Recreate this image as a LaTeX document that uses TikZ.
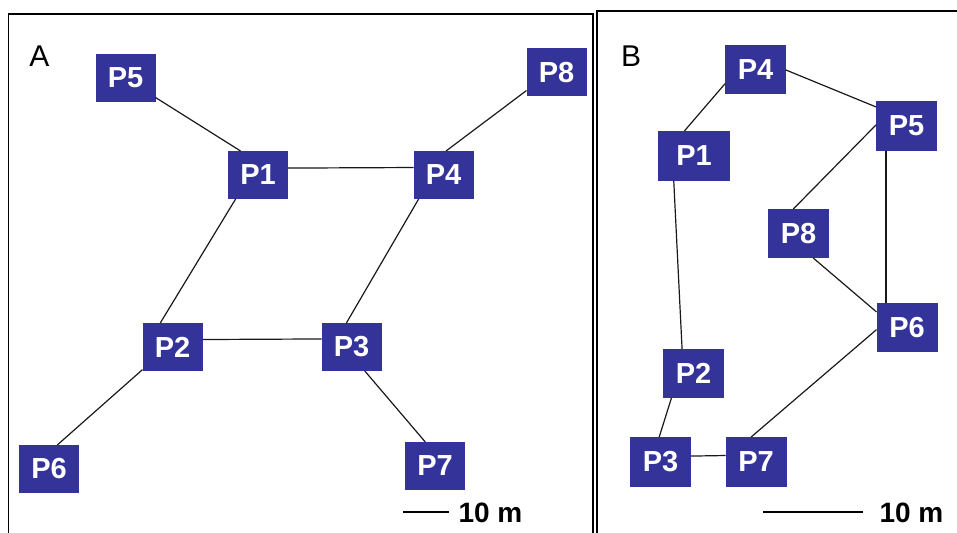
\documentclass[tikz,border=0pt]{standalone}
\usepackage{fontspec}
\setmainfont{Liberation Sans}
\definecolor{boxblue}{RGB}{51,51,153}
\begin{document}
\begin{tikzpicture}[x=1pt,y=-1pt,
 pbox/.style={fill=boxblue, text=white, font=\fontsize{29}{31}\selectfont\bfseries, minimum width=60pt, minimum height=48pt, inner sep=0pt, outer sep=0pt},
 bbox/.style={pbox, minimum width=61pt, minimum height=49pt},
 link/.style={line width=1.2pt, black!90},
 frame/.style={line width=1.6pt},
 plabel/.style={font=\fontsize{30}{32}\selectfont, inner sep=0pt},
 scaletext/.style={font=\fontsize{28}{30}\selectfont\bfseries, inner sep=0pt},
 scalebar/.style={line width=1.1pt}]
\useasboundingbox (0,0) rectangle (957,532);
\clip (0,0) rectangle (957,532);
% frames
\draw[frame] (8.5,540) -- (8.5,14) -- (593,14) -- (593,540);
\draw[frame] (597,540) -- (597,11) -- (965,11);
% panel labels
\node[plabel] (labA) at (39.5,56) {A};
\node[plabel] (labB) at (631,56) {B};
% panel A
\node[pbox] (A5) at (125.5,78) {P5};
\node[pbox] (A1) at (258,175) {P1};
\node[pbox] (A4) at (443.5,175) {P4};
\node[pbox] (A8) at (556.5,72.5) {P8};
\node[pbox] (A2) at (172.5,347) {P2};
\node[pbox] (A3) at (351.5,347) {P3};
\node[pbox] (A6) at (49,469) {P6};
\node[pbox] (A7) at (435,466) {P7};
\draw[link] (A5.-33) -- (A1.126.5);
\draw[link] (A1.13.1) -- (A4.166.7);
\draw[link] (A8.211.2) -- (A4.84);
\draw[link] (A1.227.5) -- (A2.117.5);
\draw[link] (A4.224.4) -- (A3.102.9);
\draw[link] (A2.14.9) -- (A3.165.1);
\draw[link] (A2.217.5) -- (A6.71.6);
\draw[link] (A3.299.4) -- (A7.112.6);
% panel B
\node[bbox] (B4) at (755.5,69.5) {P4};
\node[bbox] (B5) at (906.5,126) {P5};
\node[bbox, minimum width=72pt, minimum height=50pt] (B1) at (694,156) {P1\hspace{5pt}};
\node[bbox] (B8) at (798.5,233.5) {P8};
\node[bbox] (B6) at (907,327.5) {P6};
\node[bbox] (B2) at (693.5,373.5) {P2};
\node[bbox, minimum height=50pt] (B3) at (660.5,462) {P3};
\node[bbox, minimum height=50pt] (B7) at (756,462) {P7};
\draw[link] (B4.205.4) -- (B1.111.8);
\draw[link] (B4.359) -- (B5.148.1);
\draw[link] (B5.178) -- (B8.102.9);
\draw[link] ([xshift=-20.5pt]B5.south) -- ([xshift=-21pt]B6.north);
\draw[link] (B1.231.3) -- (B2.115.6);
\draw[link] (B8.301.1) -- (B6.153.4);
\draw[link] (B2.228.7) -- (B3.93.4);
\draw[link] (B3.11.1) -- (B7.168.9);
\draw[link] (B6.184.6) -- (B7.101.3);
% scale bars
\coordinate (sa1) at (403,512);
\coordinate (sa2) at (449,512);
\draw[scalebar] (sa1) -- (sa2);
\node[scaletext] (sta) at (490.5,512.5) {10 m};
\coordinate (sb1) at (763,512);
\coordinate (sb2) at (863,512);
\draw[scalebar] (sb1) -- (sb2);
\node[scaletext] (stb) at (911.5,512.5) {10 m};
\end{tikzpicture}
\end{document}
